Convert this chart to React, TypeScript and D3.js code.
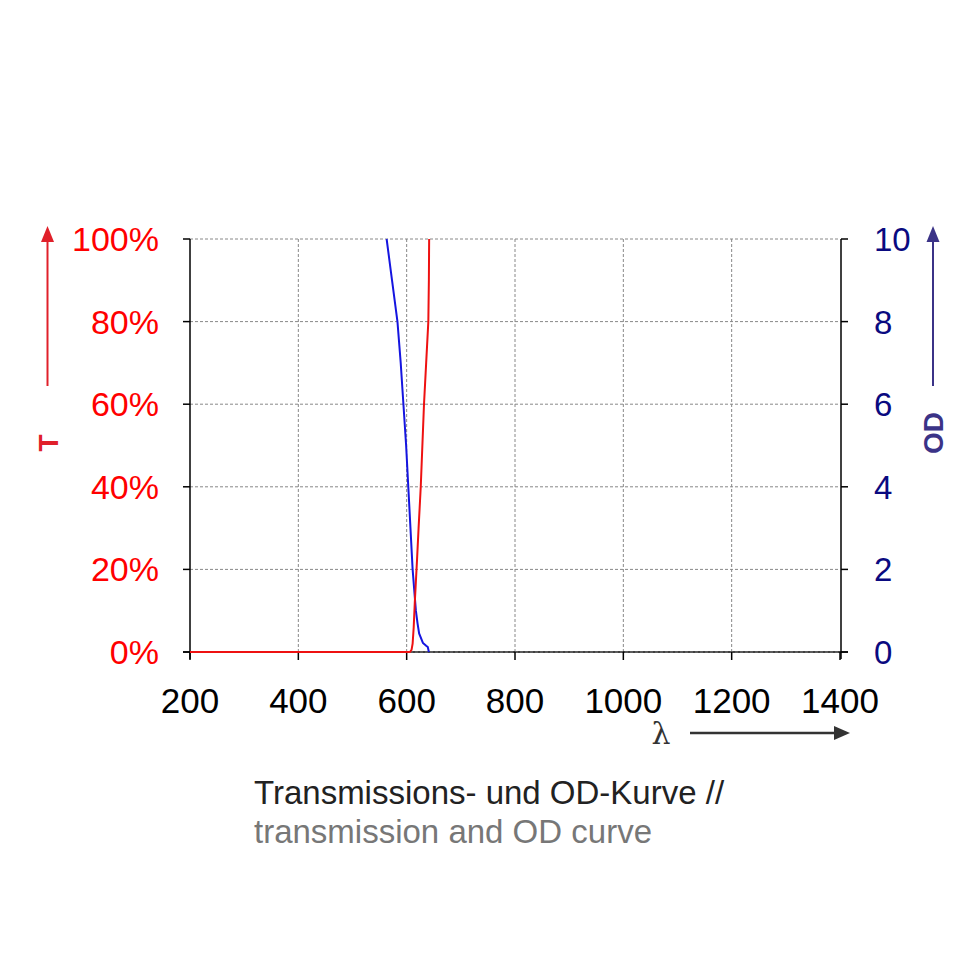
import React from "react";
import * as d3 from "d3";

// Wavelength axis ticks (nm)
const xTicks = [200, 400, 600, 800, 1000, 1200, 1400];
// Transmission ticks (fraction in %)
const tTicks = [0, 20, 40, 60, 80, 100];
// OD ticks
const odTicks = [0, 2, 4, 6, 8, 10];

// Transmission curve: wavelength (nm) and T (%)
const tWavelength = [200, 606, 609, 611, 613, 615, 617, 619, 622, 626, 629, 632, 636, 640, 641, 641.5];
const tValues = [0, 0, 0.5, 2, 6, 12, 17, 22, 30, 40, 50, 60, 70, 80, 90, 100];

// OD curve: wavelength (nm) and OD
const odWavelength = [563, 573, 583, 589, 594, 599, 603, 607, 611, 614, 617, 620, 623, 630, 636, 639, 641];
const odValues = [10, 9, 8, 7, 6, 5, 4, 3, 2, 1.5, 1.0, 0.7, 0.45, 0.22, 0.15, 0.12, 0];

const captionDe = "Transmissions- und OD-Kurve //";
const captionEn = "transmission and OD curve";

export default function App() {
  const W = 980, H = 980;
  const x = d3.scaleLinear().domain([200, 1400]).range([190, 840]);
  const yT = d3.scaleLinear().domain([0, 100]).range([652, 239]);
  const yOD = d3.scaleLinear().domain([0, 10]).range([652, 239]);

  const tData = tWavelength.map((w, i) => [w, tValues[i]] as [number, number]);
  const odData = odWavelength.map((w, i) => [w, odValues[i]] as [number, number]);

  const tLine = d3.line<[number, number]>().x(d => x(d[0])).y(d => yT(d[1]))(tData) || "";
  const odLine = d3.line<[number, number]>().x(d => x(d[0])).y(d => yOD(d[1]))(odData) || "";

  const font = "'Liberation Sans', Arial, Helvetica, sans-serif";
  const red = "#ee1111";
  const navy = "#0a0a80";
  const axisPurple = "#3b3387";

  return (
    <svg width={W} height={H} style={{ position: "absolute", left: 0, top: 0 }} fontFamily={font}>
      <rect x={0} y={0} width={W} height={H} fill="#fff" />
      <defs>
        <marker id="arrRed" viewBox="0 0 10 10" refX="5" refY="10" markerWidth="13" markerHeight="13" orient="auto-start-reverse" markerUnits="userSpaceOnUse">
          <path d="M0,10 L5,0 L10,10 Z" fill="#e0202a" />
        </marker>
      </defs>

      {/* grid */}
      {xTicks.slice(1, -1).map(t => (
        <line key={"gx" + t} x1={x(t)} x2={x(t)} y1={239} y2={652} stroke="#888" strokeWidth={1} strokeDasharray="3,2" />
      ))}
      {tTicks.map(t => (
        <line key={"gy" + t} x1={190} x2={840} y1={yT(t)} y2={yT(t)} stroke="#888" strokeWidth={1} strokeDasharray="3,2" />
      ))}

      {/* axes */}
      <line x1={190} x2={190} y1={239} y2={659} stroke="#000" strokeWidth={1.5} />
      <line x1={841} x2={841} y1={239} y2={659} stroke="#000" strokeWidth={1.5} />
      <line x1={183} x2={848} y1={652} y2={652} stroke="#000" strokeWidth={1.5} />
      <line x1={190} x2={840} y1={652} y2={652} stroke="#888" strokeWidth={1} strokeDasharray="3,2" />
      {tTicks.map(t => (
        <line key={"lt" + t} x1={183} x2={190} y1={yT(t)} y2={yT(t)} stroke="#000" strokeWidth={1.5} />
      ))}
      {odTicks.map(t => (
        <line key={"rt" + t} x1={841} x2={848} y1={yOD(t)} y2={yOD(t)} stroke="#000" strokeWidth={1.5} />
      ))}
      {xTicks.map(t => (
        <line key={"xt" + t} x1={x(t)} x2={x(t)} y1={652} y2={660} stroke="#000" strokeWidth={1.5} />
      ))}

      {/* curves */}
      <path d={odLine} fill="none" stroke="#1515e0" strokeWidth={2} />
      <path d={tLine} fill="none" stroke={red} strokeWidth={2} />

      {/* tick labels */}
      {tTicks.map(t => (
        <text key={"ltl" + t} x={159} y={yT(t) + 12} textAnchor="end" fontSize={34} fill="#ff0000">{t + "%"}</text>
      ))}
      {odTicks.map(t => (
        <text key={"rtl" + t} x={874} y={yOD(t) + 12} textAnchor="start" fontSize={33} fill={navy}>{t}</text>
      ))}
      {xTicks.map(t => (
        <text key={"xtl" + t} x={x(t)} y={713} textAnchor="middle" fontSize={35} fill="#000">{t}</text>
      ))}

      {/* T axis label */}
      <line x1={47.5} x2={47.5} y1={386} y2={240} stroke="#e0202a" strokeWidth={2} />
      <path d="M41,242 L47.5,226 L54,242 Z" fill="#e0202a" />
      <text transform="translate(58,443) rotate(-90)" textAnchor="middle" fontSize={28} fontWeight="bold" fill="#e0202a">T</text>

      {/* OD axis label */}
      <line x1={933} x2={933} y1={386} y2={240} stroke={axisPurple} strokeWidth={2} />
      <path d="M926.5,242 L933,226 L939.5,242 Z" fill={axisPurple} />
      <text transform="translate(943,433) rotate(-90)" textAnchor="middle" fontSize={28} fontWeight="bold" fill={axisPurple}>OD</text>

      {/* lambda arrow */}
      <text x={661} y={744} textAnchor="middle" fontSize={30} fill="#333" fontFamily="'DejaVu Serif', serif">λ</text>
      <line x1={690} x2={836} y1={733} y2={733} stroke="#333" strokeWidth={2.5} />
      <path d="M834,726 L850,733 L834,740 Z" fill="#333" />

      {/* caption */}
      <text x={254} y={804} fontSize={33} fill="#222">{captionDe}</text>
      <text x={254} y={843} fontSize={33} fill="#777">{captionEn}</text>
    </svg>
  );
}
